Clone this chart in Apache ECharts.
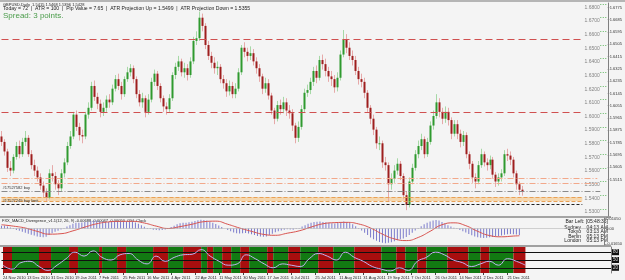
<!DOCTYPE html>
<html><head><meta charset="utf-8">
<script src="https://cdn.jsdelivr.net/npm/echarts@6/dist/echarts.min.js"></script>
<style>html,body{margin:0;padding:0;background:#f4f4f4}#c{width:625px;height:280px}</style>
</head><body><div id="c"></div><script>
// ---------- DATA ----------
const dateLabels = ['24 Nov 2010','13 Dec 2010','31 Dec 2010','19 Jan 2011','7 Feb 2011','25 Feb 2011','16 Mar 2011','4 Apr 2011','22 Apr 2011','11 May 2011','30 May 2011','17 Jun 2011','6 Jul 2011','25 Jul 2011','11 Aug 2011','31 Aug 2011','19 Sep 2011','7 Oct 2011','26 Oct 2011','14 Nov 2011','2 Dec 2011','21 Dec 2011'];

// [open, close, low, high]
const candles = [
[1.5830,1.5790,1.5760,1.5870],[1.5790,1.5720,1.5690,1.5810],[1.5720,1.5600,1.5570,1.5740],[1.5600,1.5580,1.5540,1.5650],[1.5580,1.5680,1.5560,1.5700],
[1.5680,1.5760,1.5660,1.5790],[1.5760,1.5700,1.5670,1.5800],[1.5700,1.5790,1.5680,1.5820],[1.5790,1.5820,1.5760,1.5870],[1.5820,1.5700,1.5680,1.5840],
[1.5700,1.5620,1.5590,1.5730],[1.5620,1.5580,1.5540,1.5660],[1.5580,1.5530,1.5500,1.5610],[1.5530,1.5470,1.5440,1.5560],[1.5470,1.5420,1.5380,1.5500],
[1.5420,1.5380,1.5350,1.5450],[1.5380,1.5560,1.5370,1.5590],[1.5560,1.5540,1.5500,1.5620],[1.5540,1.5480,1.5440,1.5570],[1.5480,1.5450,1.5400,1.5510],
[1.5450,1.5560,1.5430,1.5590],[1.5560,1.5640,1.5530,1.5670],[1.5640,1.5760,1.5620,1.5790],[1.5760,1.5830,1.5740,1.5870],[1.5830,1.5990,1.5810,1.6010],
[1.5990,1.5900,1.5870,1.6020],[1.5900,1.5840,1.5800,1.5930],[1.5840,1.5830,1.5780,1.5880],[1.5830,1.5990,1.5810,1.6010],[1.5990,1.6040,1.5960,1.6080],
[1.6040,1.6200,1.6020,1.6230],[1.6200,1.6120,1.6090,1.6240],[1.6120,1.6070,1.6030,1.6150],[1.6070,1.6010,1.5970,1.6100],[1.6010,1.6040,1.5980,1.6080],
[1.6040,1.6100,1.6010,1.6130],[1.6100,1.6080,1.6040,1.6140],[1.6080,1.6180,1.6060,1.6210],[1.6180,1.6250,1.6160,1.6280],[1.6250,1.6200,1.6170,1.6290],
[1.6200,1.6140,1.6100,1.6230],[1.6140,1.6250,1.6120,1.6270],[1.6250,1.6300,1.6230,1.6340],[1.6300,1.6330,1.6270,1.6360],[1.6330,1.6250,1.6220,1.6350],
[1.6250,1.6140,1.6110,1.6270],[1.6140,1.6080,1.6050,1.6170],[1.6080,1.6110,1.6040,1.6150],[1.6110,1.6010,1.5970,1.6130],[1.6010,1.6100,1.5990,1.6140],
[1.6100,1.6230,1.6080,1.6260],[1.6230,1.6290,1.6200,1.6320],[1.6290,1.6200,1.6170,1.6310],[1.6200,1.6110,1.6080,1.6220],[1.6110,1.6050,1.6010,1.6130],
[1.6050,1.6030,1.5990,1.6080],[1.6030,1.6110,1.6010,1.6140],[1.6110,1.6280,1.6090,1.6300],[1.6280,1.6340,1.6250,1.6370],[1.6340,1.6380,1.6310,1.6420],
[1.6380,1.6300,1.6270,1.6400],[1.6300,1.6330,1.6260,1.6370],[1.6330,1.6280,1.6240,1.6360],[1.6280,1.6380,1.6260,1.6410],[1.6380,1.6530,1.6360,1.6560],
[1.6530,1.6550,1.6500,1.6600],[1.6550,1.6700,1.6530,1.6745],[1.6700,1.6640,1.6600,1.6730],[1.6640,1.6500,1.6470,1.6660],[1.6500,1.6420,1.6390,1.6530],
[1.6420,1.6370,1.6330,1.6450],[1.6370,1.6330,1.6290,1.6410],[1.6330,1.6340,1.6280,1.6380],[1.6340,1.6250,1.6220,1.6360],[1.6250,1.6220,1.6180,1.6280],
[1.6220,1.6160,1.6120,1.6250],[1.6160,1.6200,1.6130,1.6240],[1.6200,1.6140,1.6110,1.6230],[1.6140,1.6180,1.6110,1.6220],[1.6180,1.6300,1.6160,1.6330],
[1.6300,1.6480,1.6280,1.6500],[1.6480,1.6450,1.6410,1.6520],[1.6450,1.6420,1.6380,1.6480],[1.6420,1.6440,1.6390,1.6490],[1.6440,1.6380,1.6350,1.6470],
[1.6380,1.6330,1.6290,1.6410],[1.6330,1.6270,1.6230,1.6360],[1.6270,1.6180,1.6140,1.6290],[1.6180,1.6220,1.6150,1.6260],[1.6220,1.6130,1.6100,1.6250],
[1.6130,1.6020,1.5990,1.6150],[1.6020,1.5960,1.5920,1.6040],[1.5960,1.6060,1.5940,1.6090],[1.6060,1.6030,1.5990,1.6100],[1.6030,1.6080,1.6000,1.6120],
[1.6080,1.6020,1.5980,1.6110],[1.6020,1.6000,1.5960,1.6060],[1.6000,1.5910,1.5870,1.6030],[1.5910,1.5820,1.5780,1.5930],[1.5820,1.5900,1.5790,1.5940],
[1.5900,1.6030,1.5880,1.6060],[1.6030,1.6150,1.6010,1.6180],[1.6150,1.6170,1.6120,1.6210],[1.6170,1.6230,1.6140,1.6260],[1.6230,1.6310,1.6200,1.6340],
[1.6310,1.6260,1.6220,1.6350],[1.6260,1.6390,1.6240,1.6420],[1.6390,1.6360,1.6320,1.6430],[1.6360,1.6310,1.6270,1.6400],[1.6310,1.6270,1.6230,1.6340],
[1.6270,1.6250,1.6200,1.6310],[1.6250,1.6190,1.6150,1.6280],[1.6190,1.6260,1.6160,1.6300],[1.6260,1.6430,1.6240,1.6460],[1.6430,1.6540,1.6410,1.6610],
[1.6540,1.6480,1.6440,1.6580],[1.6480,1.6420,1.6390,1.6520],[1.6420,1.6390,1.6350,1.6460],[1.6390,1.6310,1.6280,1.6420],[1.6310,1.6250,1.6210,1.6340],
[1.6250,1.6230,1.6190,1.6290],[1.6230,1.6150,1.6110,1.6260],[1.6150,1.6040,1.6010,1.6170],[1.6040,1.5960,1.5920,1.6060],[1.5960,1.5880,1.5840,1.5990],
[1.5880,1.5780,1.5740,1.5900],[1.5780,1.5780,1.5730,1.5830],[1.5780,1.5640,1.5600,1.5800],[1.5640,1.5620,1.5580,1.5680],[1.5620,1.5480,1.5350,1.5640],
[1.5480,1.5520,1.5440,1.5560],[1.5520,1.5580,1.5490,1.5620],[1.5580,1.5630,1.5550,1.5670],[1.5630,1.5540,1.5510,1.5650],[1.5540,1.5400,1.5370,1.5560],
[1.5400,1.5330,1.5290,1.5430],[1.5330,1.5500,1.5310,1.5530],[1.5500,1.5600,1.5480,1.5630],[1.5600,1.5700,1.5580,1.5730],[1.5700,1.5760,1.5670,1.5800],
[1.5760,1.5810,1.5730,1.5850],[1.5810,1.5700,1.5670,1.5830],[1.5700,1.5790,1.5680,1.5820],[1.5790,1.5910,1.5770,1.5940],[1.5910,1.5980,1.5880,1.6020],
[1.5980,1.6080,1.5960,1.6140],[1.6080,1.6010,1.5970,1.6110],[1.6010,1.5960,1.5920,1.6040],[1.5960,1.6010,1.5930,1.6050],[1.6010,1.5950,1.5910,1.6040],
[1.5950,1.5850,1.5810,1.5970],[1.5850,1.5920,1.5830,1.5950],[1.5920,1.5850,1.5810,1.5950],[1.5850,1.5790,1.5750,1.5880],[1.5790,1.5840,1.5760,1.5870],
[1.5840,1.5700,1.5670,1.5860],[1.5700,1.5630,1.5590,1.5720],[1.5630,1.5530,1.5490,1.5650],[1.5530,1.5500,1.5450,1.5560],[1.5500,1.5620,1.5480,1.5650],
[1.5620,1.5700,1.5600,1.5740],[1.5700,1.5640,1.5610,1.5720],[1.5640,1.5620,1.5580,1.5670],[1.5620,1.5660,1.5590,1.5690],[1.5660,1.5550,1.5520,1.5680],
[1.5550,1.5500,1.5460,1.5570],[1.5500,1.5530,1.5470,1.5560],[1.5530,1.5560,1.5500,1.5590],[1.5560,1.5700,1.5540,1.5730],[1.5700,1.5690,1.5650,1.5740],
[1.5690,1.5660,1.5620,1.5720],[1.5660,1.5560,1.5530,1.5680],[1.5560,1.5480,1.5440,1.5580],[1.5480,1.5440,1.5400,1.5500],[1.5440,1.5428,1.5396,1.5468]
];

const macdHist = [
0.0030,0.0028,0.0020,0.0010,-0.0005,-0.0015,-0.0025,-0.0035,-0.0045,-0.0055,
-0.0065,-0.0075,-0.0085,-0.0090,-0.0092,-0.0088,-0.0070,-0.0050,-0.0035,-0.0025,
-0.0010,0.0005,0.0020,0.0035,0.0050,0.0060,0.0062,0.0064,0.0068,0.0072,
0.0080,0.0085,0.0084,0.0080,0.0075,0.0072,0.0070,0.0072,0.0078,0.0080,
0.0076,0.0074,0.0076,0.0078,0.0074,0.0064,0.0050,0.0035,0.0018,0.0005,
-0.0005,-0.0012,-0.0015,-0.0018,-0.0016,-0.0010,0.0002,0.0015,0.0030,0.0045,
0.0055,0.0060,0.0062,0.0066,0.0072,0.0080,0.0088,0.0092,0.0090,0.0085,
0.0075,0.0062,0.0048,0.0032,0.0015,0.0000,-0.0015,-0.0030,-0.0042,-0.0050,
-0.0052,-0.0050,-0.0048,-0.0052,-0.0060,-0.0070,-0.0080,-0.0086,-0.0088,-0.0085,
-0.0070,-0.0055,-0.0040,-0.0030,-0.0020,-0.0012,-0.0008,-0.0010,-0.0012,-0.0006,
0.0005,0.0020,0.0035,0.0050,0.0062,0.0068,0.0072,0.0074,0.0070,0.0066,
0.0060,0.0056,0.0054,0.0060,0.0070,0.0075,0.0070,0.0060,0.0045,0.0025,
0.0005,-0.0020,-0.0045,-0.0070,-0.0095,-0.0115,-0.0130,-0.0142,-0.0150,-0.0155,
-0.0152,-0.0145,-0.0135,-0.0125,-0.0115,-0.0105,-0.0090,-0.0070,-0.0045,-0.0020,
0.0005,0.0025,0.0045,0.0060,0.0075,0.0086,0.0090,0.0085,0.0070,0.0052,
0.0035,0.0020,0.0008,-0.0004,-0.0015,-0.0028,-0.0042,-0.0058,-0.0072,-0.0085,
-0.0094,-0.0098,-0.0100,-0.0098,-0.0094,-0.0090,-0.0085,-0.0080,-0.0074,-0.0066,
-0.0060,-0.0058,-0.0060,-0.0064,-0.0068
];

// [bar index, signal]
const macdSignal = [[0,0.0040],[4,0.0025],[8,0.0005],[12,-0.0030],[16,-0.0060],[20,-0.0055],[24,-0.0025],[28,0.0015],[32,0.0050],[36,0.0070],[40,0.0076],[44,0.0076],[48,0.0058],[52,0.0025],[56,0.0000],[60,0.0020],[64,0.0045],[68,0.0072],[72,0.0078],[76,0.0045],[80,0.0005],[84,-0.0030],[88,-0.0062],[92,-0.0072],[96,-0.0050],[100,-0.0025],[104,0.0015],[108,0.0050],[112,0.0062],[116,0.0065],[120,0.0048],[124,0.0005],[128,-0.0060],[132,-0.0110],[136,-0.0128],[140,-0.0095],[144,-0.0030],[148,0.0040],[152,0.0060],[156,0.0030],[160,-0.0030],[164,-0.0075],[168,-0.0088],[172,-0.0080],[174,-0.0077]];

// [bar index, oscillator 0..100]
const oscValues = [[0,30],[3,15],[6,40],[9,45],[12,25],[15,10],[18,30],[21,55],[24,80],[27,65],[30,85],[33,60],[36,50],[39,70],[42,75],[45,50],[48,35],[51,65],[54,45],[57,60],[60,70],[63,72],[66,90],[69,65],[72,45],[75,30],[78,35],[81,70],[84,55],[87,35],[90,20],[93,35],[96,30],[99,25],[102,55],[105,75],[108,65],[111,50],[114,80],[117,60],[120,45],[123,25],[126,15],[129,8],[132,20],[135,10],[138,45],[141,60],[144,80],[147,70],[150,50],[153,40],[156,25],[159,35],[162,45],[165,30],[168,55],[171,45],[174,30]];

// [from bar, to bar, state]  g = green, r = red
const oscBands = [[0,3,'r'],[3,12,'g'],[12,16,'r'],[16,22,'g'],[22,25,'r'],[25,32,'g'],[32,33,'r'],[33,38,'g'],[38,41,'r'],[41,50,'g'],[50,55,'r'],[55,60,'g'],[60,66,'r'],[66,68,'g'],[68,70,'r'],[70,73,'g'],[73,76,'r'],[76,79,'g'],[79,82,'r'],[82,88,'g'],[88,90,'r'],[90,95,'g'],[95,99,'r'],[99,105,'g'],[105,110,'r'],[110,117,'g'],[117,126,'r'],[126,131,'g'],[131,134,'r'],[134,138,'g'],[138,141,'r'],[141,148,'g'],[148,155,'r'],[155,159,'g'],[159,162,'r'],[162,170,'g'],[170,174,'r']];
const oscLevels = [80, 50, 20];

const gridLevels = [1.6800,1.6700,1.6600,1.6500,1.6400,1.6300,1.6200,1.6100,1.6000,1.5900,1.5800,1.5700,1.5600,1.5500,1.5400,1.5300];
const priceTicks = [1.6775,1.6685,1.6595,1.6505,1.6415,1.6325,1.6235,1.6145,1.6055,1.5965,1.5875,1.5785,1.5695,1.5605,1.5515];
const redLevels = [1.6542, 1.6011];
const salmonLevels = [1.5526, 1.5489];
const bidLevel = 1.5428;
const zoneLevels = [1.5386, 1.5357];
const buyLimitLevel = 1.5335;
const macdTicks = [0.0105, 0, -0.0165];

// ---------- CHART ----------
const N = 203;
const cats = Array.from({length: N}, (_, i) => String(i));
const chart = echarts.init(document.getElementById('c'), null, {renderer: 'canvas'});
const FONT = 'Liberation Sans';
const lineEnd = 194;

const mainMarks = [];
gridLevels.forEach(p => mainMarks.push([{coord:[200,p], lineStyle:{color:'#63b863', type:[1,1.5], width:1}}, {coord:[202,p]}]));
redLevels.forEach(p => mainMarks.push([{coord:[0,p], lineStyle:{color:'#d05050', type:[7,4], width:1}}, {coord:[lineEnd,p]}]));
salmonLevels.forEach(p => mainMarks.push([{coord:[0,p], lineStyle:{color:'#f2a88a', type:[6,2,1,2], width:1}}, {coord:[199,p]}]));
mainMarks.push([{coord:[0,bidLevel], lineStyle:{color:'#8a8a8a', type:[6,2,1,2], width:1},
  label:{show:true, position:'insideStartTop', formatter:'#17527582 buy', fontSize:4, color:'#333', fontFamily:FONT, distance:1}}, {coord:[200,bidLevel]}]);
zoneLevels.forEach(p => mainMarks.push([{coord:[0,p], lineStyle:{color:'#e8a055', type:[4,2], width:1}}, {coord:[lineEnd,p]}]));
mainMarks.push([{coord:[0,buyLimitLevel], lineStyle:{color:'#222', type:[3,2], width:1},
  label:{show:true, position:'insideStartTop', formatter:'#17527249 buy limit', fontSize:4, color:'#333', fontFamily:FONT, distance:1}}, {coord:[lineEnd,buyLimitLevel]}]);
// right-axis price boxes
const boxes = [[redLevels[0],'#d42a2a','#fff'],[redLevels[1],'#d42a2a','#fff'],[bidLevel,'#111','#eee'],[zoneLevels[0],'#2e9a3e','#fff'],[buyLimitLevel,'#2e9a3e','#fff']];
boxes.forEach(b => mainMarks.push({yAxis:b[0], lineStyle:{opacity:0},
  label:{show:true, position:'end', distance:1, formatter: b[0].toFixed(4), backgroundColor:b[1], color:b[2], fontSize:4, fontFamily:FONT, padding:[1,1,0,1]}}));

const labelIdx = (i) => i % 8 === 0 && i / 8 < dateLabels.length;

const option = {
  backgroundColor: '#f4f4f4',
  animation: false,
  grid: [
    {left:0, right:14, top:3, height:213},
    {left:0, right:14, top:218, height:27},
    {left:0, right:14, top:247, height:26}
  ],
  xAxis: [0,1,2].map(k => ({
    type:'category', gridIndex:k, data:cats, boundaryGap:true,
    axisLine:{show:false}, splitLine:{show:false},
    axisTick: k === 2 ? {show:true, alignWithLabel:true, length:2, interval:labelIdx, lineStyle:{color:'#444'}} : {show:false},
    axisLabel: k === 2 ? {show:true, interval:labelIdx, showMinLabel:true, hideOverlap:false, formatter:(v,i)=> dateLabels[Number(v)/8] || '',
      align:'left', fontSize:4, color:'#222', margin:2.5, fontFamily:FONT} : {show:false}
  })),
  yAxis: [
    {type:'value', gridIndex:0, position:'right', min:1.52473, max:1.68077, scale:true,
     axisLine:{show:true, lineStyle:{color:'#808080'}}, splitLine:{show:false},
     axisTick:{show:true, length:1.5, customValues:priceTicks, lineStyle:{color:'#808080'}},
     axisLabel:{customValues:priceTicks, fontSize:4, color:'#333', margin:2, fontFamily:FONT, formatter:v=>v.toFixed(4)}},
    {type:'value', gridIndex:1, position:'right', min:-0.01748, max:0.01112,
     axisLine:{show:true, lineStyle:{color:'#808080'}}, splitLine:{show:false},
     axisTick:{show:true, length:1.5, customValues:macdTicks, lineStyle:{color:'#808080'}},
     axisLabel:{customValues:macdTicks, fontSize:4, color:'#333', margin:2, fontFamily:FONT, formatter:v=> v===0 ? '0.00' : v.toFixed(5)}},
    {type:'value', gridIndex:2, position:'right', min:0, max:100,
     axisLine:{show:true, lineStyle:{color:'#808080'}}, splitLine:{show:false},
     axisTick:{show:false},
     axisLabel:{customValues:oscLevels, fontSize:4.5, color:'#ddd', backgroundColor:'#111', padding:[0.5,1], margin:1, fontFamily:FONT}}
  ],
  series: [
    {
      type:'custom', xAxisIndex:0, yAxisIndex:0, clip:true,
      data: candles.map((d,i)=>[i, d[0], d[1], d[2], d[3]]),
      encode:{x:0, y:[1,2,3,4]},
      renderItem:(params, api) => {
        const i = api.value(0), o = api.value(1), c = api.value(2), l = api.value(3), h = api.value(4);
        const pO = api.coord([i,o]), pC = api.coord([i,c]), pL = api.coord([i,l]), pH = api.coord([i,h]);
        const up = c >= o;
        const x = Math.round(pO[0]);
        return {type:'group', children:[
          {type:'line', shape:{x1:x+0.5, y1:pL[1], x2:x+0.5, y2:pH[1]}, style:{stroke: up ? '#a6d8a6' : '#e6a9a9', lineWidth:1}},
          {type:'rect', shape:{x:x-0.5, y:Math.min(pO[1],pC[1]), width:2, height:Math.max(1, Math.abs(pO[1]-pC[1]))},
           style:{fill: up ? '#2f9a2f' : '#9e1e1e'}}
        ]};
      }
    },
    {
      type:'scatter', xAxisIndex:0, yAxisIndex:0, silent:true,
      data: gridLevels.map(p => [200, p]),
      symbolSize:1, itemStyle:{color:'rgba(0,0,0,0)'},
      label:{show:true, position:'left', distance:0, offset:[0,3.2], formatter:(p)=>p.value[1].toFixed(4), fontSize:5, color:'#666', fontFamily:FONT},
      markArea:{silent:true, data:[[{coord:[0,zoneLevels[0]], itemStyle:{color:'#f5d8b0'}}, {coord:[lineEnd, zoneLevels[1]]}]]},
      markLine:{silent:true, symbol:['none','none'], label:{show:false}, data: mainMarks}
    },
    {
      type:'bar', xAxisIndex:1, yAxisIndex:1, data: macdHist, barWidth:1,
      itemStyle:{color:'#7c7ccc'}, silent:true
    },
    {
      type:'line', xAxisIndex:1, yAxisIndex:1, data: macdSignal, smooth:0.5, symbol:'none',
      lineStyle:{color:'#d9534f', width:1}, silent:true,
      markLine:{silent:true, symbol:['none','none'], label:{show:false}, lineStyle:{color:'#aaa', width:0.5, type:'solid'}, data:[{yAxis:0}]}
    },
    {
      type:'line', xAxisIndex:2, yAxisIndex:2, data: oscValues, smooth:0.5, symbol:'none', z:5,
      lineStyle:{color:'#c2b2f2', width:1}, silent:true,
      markArea:{silent:true, data: oscBands.map(b => [{xAxis:b[0], itemStyle:{color: b[2]==='g' ? '#127a12' : '#a80e0e'}}, {xAxis:b[1]}])},
      markLine:{silent:true, symbol:['none','none'], label:{show:false}, lineStyle:{color:'#111', width:1, type:'solid'}, data: oscLevels.map(v => ({yAxis:v}))}
    }
  ],
  graphic: [
    {type:'rect', left:0, top:0, shape:{width:625, height:2}, style:{fill:'#b5b5b5'}, silent:true},
    {type:'rect', left:0, top:216.5, shape:{width:611, height:1}, style:{fill:'#555'}, silent:true},
    {type:'rect', left:0, top:245, shape:{width:611, height:2}, style:{fill:'#a0a0a0'}, silent:true},
    {type:'text', left:3, top:2.5, style:{text:'GBPUSD,Daily  1.5415 1.5468 1.5396 1.5428', fontSize:4, fill:'#222', fontFamily:FONT}},
    {type:'text', left:3, top:6.2, style:{text:'Today = 72  |  ATR = 100  |  Pip Value = 7.65  |  ATR Projection Up = 1.5499  |  ATR Projection Down = 1.5355', fontSize:5.1, fill:'#222', fontFamily:FONT}},
    {type:'text', left:3, top:11.5, style:{text:'Spread: 3 points.', fontSize:8, fill:'#4a9c4a', fontFamily:FONT}},
    {type:'text', left:2, top:218.5, style:{text:'FXX_MACD_Divergence_v1.1(12, 26, 9) -0.00688 -0.00047 -0.00050  0%L Clock', fontSize:4, fill:'#222', fontFamily:FONT}},
    {type:'text', right:17, top:219.5, style:{text:'Bar Left: [05:48:36]', fontSize:5, fill:'#222', fontFamily:FONT}},
    {type:'text', right:17, top:225, style:{text:'Sydney    04:13 AM', fontSize:5, fill:'#222', fontFamily:FONT}},
    {type:'text', right:17, top:229.5, style:{text:'Tokyo    03:13 AM', fontSize:5, fill:'#222', fontFamily:FONT}},
    {type:'text', right:17, top:234, style:{text:'Berlin    05:13 PM', fontSize:5, fill:'#222', fontFamily:FONT}},
    {type:'text', right:17, top:238.5, style:{text:'London    05:13 PM', fontSize:5, fill:'#222', fontFamily:FONT}}
  ]
};
chart.setOption(option);
</script></body></html>
